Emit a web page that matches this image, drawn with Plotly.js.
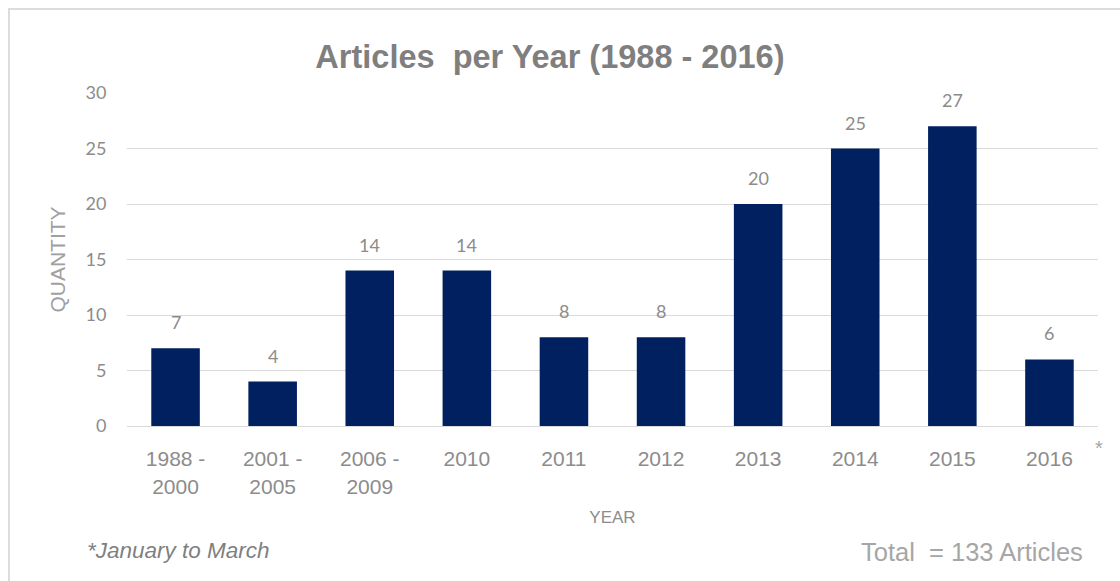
<!DOCTYPE html>
<html>
<head>
<meta charset="utf-8">
<script src="https://cdn.plot.ly/plotly-3.0.1.min.js"></script>
<style>
  html, body { margin: 0; padding: 0; background: #fff; }
  #wrap { position: relative; width: 1120px; height: 581px; }
  #chart { position: absolute; left: 0; top: 0; width: 1120px; height: 581px; }
  #frame { position: absolute; left: 8px; top: 8px; width: 1120px; height: 581px;
           border-top: 2px solid #dcdcdc; border-left: 2px solid #dcdcdc; pointer-events: none; }
</style>
</head>
<body>
<div id="wrap">
  <div id="chart"></div>
  <div id="frame"></div>
</div>
<script>
const categories = ["1988 -<br>2000", "2001 -<br>2005", "2006 -<br>2009", "2010", "2011", "2012", "2013", "2014", "2015", "2016"];
const quantities = [7, 4, 14, 14, 8, 8, 20, 25, 27, 6];
const yTicks = [0, 5, 10, 15, 20, 25, 30];

const labelAnnotations = categories.map((c, i) => ({
  x: i, y: quantities[i], xref: 'x', yref: 'y',
  text: String(quantities[i]), showarrow: false,
  yanchor: 'middle', yshift: 26,
  font: { family: 'Lato, "Open Sans", sans-serif', size: 18, color: '#8c8c8c' }
}));

const trace = {
  type: 'bar',
  x: categories,
  y: quantities,
  marker: { color: '#002060' },
  hoverinfo: 'none'
};

const layout = {
  width: 1120, height: 581,
  margin: { l: 127, r: 22, t: 93, b: 155 },
  paper_bgcolor: '#ffffff', plot_bgcolor: '#ffffff',
  bargap: 0.5,
  showlegend: false,
  title: {
    text: 'Articles  per Year (1988 - 2016)',
    x: 0.491, xanchor: 'center', y: 0.902, yanchor: 'middle',
    font: { family: '"Liberation Sans", Arial, sans-serif', size: 32.5, color: '#7f7f7f', weight: 'bold' }
  },
  xaxis: {
    type: 'category',
    range: [-0.5, categories.length - 0.5],
    showgrid: false,
    showline: false,
    zeroline: false,
    ticks: 'outside', ticklen: 14, tickcolor: 'rgba(0,0,0,0)',
    tickfont: { family: '"Liberation Sans", Arial, sans-serif', size: 21, color: '#8c8c8c' },
    title: {
      text: 'YEAR', standoff: 14,
      font: { family: '"Liberation Sans", Arial, sans-serif', size: 17, color: '#8c8c8c' }
    },
    automargin: false
  },
  yaxis: {
    range: [0, 30],
    tickvals: yTicks,
    ticktext: yTicks.map(String),
    showgrid: true, gridcolor: '#d9d9d9', gridwidth: 1,
    zeroline: true, zerolinecolor: '#d9d9d9', zerolinewidth: 1,
    showline: false,
    ticks: 'outside', ticklen: 16, tickcolor: 'rgba(0,0,0,0)',
    tickfont: { family: 'Lato, "Open Sans", sans-serif', size: 18, color: '#8c8c8c' },
    title: {
      text: 'QUANTITY', standoff: 14,
      font: { family: '"Liberation Sans", Arial, sans-serif', size: 21, color: '#a0a0a0' }
    },
    automargin: false
  },
  annotations: labelAnnotations.concat([
    { xref: 'paper', yref: 'paper', x: 1.0, y: -0.065, xanchor: 'center', yanchor: 'middle', xshift: 1,
      text: '*', showarrow: false,
      font: { family: '"Liberation Sans", Arial, sans-serif', size: 20, color: '#a6a6a6' } },
    { xref: 'paper', yref: 'paper', x: -0.043, y: -0.375, xanchor: 'left', yanchor: 'middle',
      text: '<i>*January to March</i>', showarrow: false,
      font: { family: '"Liberation Sans", Arial, sans-serif', size: 22.5, color: '#7f7f7f' } },
    { xref: 'paper', yref: 'paper', x: 0.9866, y: -0.378, xanchor: 'right', yanchor: 'middle',
      text: 'Total  = 133 Articles', showarrow: false,
      font: { family: '"Liberation Sans", Arial, sans-serif', size: 25.5, color: '#a6a6a6' } }
  ])
};

Plotly.newPlot('chart', [trace], layout, { displayModeBar: false, staticPlot: true });
</script>
</body>
</html>
